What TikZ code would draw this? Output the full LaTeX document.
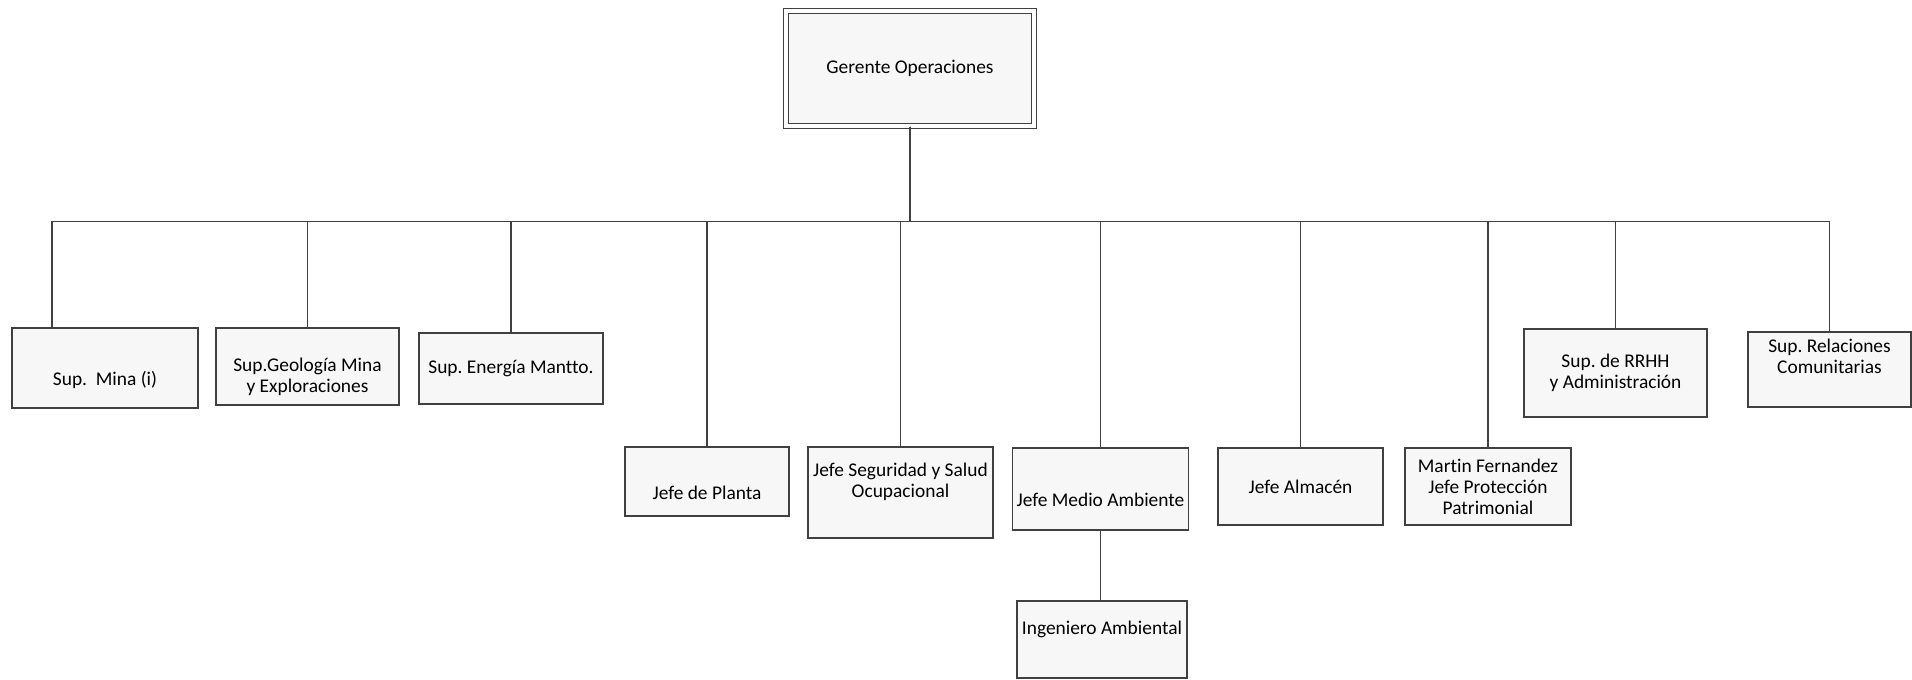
\documentclass[tikz,border=0pt]{standalone}
\usepackage{fontspec}
\setmainfont{Carlito}[Ligatures=NoCommon]
\frenchspacing

\begin{document}
\begin{tikzpicture}[x=0.5pt,y=-0.5pt,
puesto/.style={draw=black!75, fill=black!3, line width=0.75pt, align=center, inner sep=2pt, font=\fontsize{9.7}{10.5}\selectfont},
enlace/.style={draw=black!75, line width=0.75pt}]
\useasboundingbox (0,0) rectangle (1912,680);
\node[puesto, double, double distance=1.6pt, line width=0.6pt, minimum width=124pt, minimum height=57.5pt] (gerente) at (910,68.5) {Gerente Operaciones};
\node[puesto, minimum width=93pt, minimum height=40pt, text height=19pt] (mina) at (105,368) {Sup.\ \ Mina (i)};
\node[puesto, minimum width=91.5pt, minimum height=38.5pt, text height=28pt] (geo) at (307.5,366.5) {Sup.Geología Mina\\y Exploraciones};
\node[puesto, minimum width=92pt, minimum height=35.5pt] (energia) at (511,368.5) {Sup. Energía Mantto.};
\node[puesto, minimum width=82pt, minimum height=34.5pt, text height=18.5pt] (planta) at (707,481.5) {Jefe de Planta};
\node[puesto, minimum width=92.5pt, minimum height=45.5pt, text depth=12pt] (seguridad) at (900.5,492.5) {Jefe Seguridad y Salud\\Ocupacional};
\node[puesto, minimum width=87.5pt, minimum height=41pt, text height=18pt] (medio) at (1100.5,489) {Jefe Medio Ambiente};
\node[puesto, minimum width=85pt, minimum height=38.5pt, text depth=11.5pt] (ingeniero) at (1102,639.5) {Ingeniero Ambiental};
\node[puesto, minimum width=82.5pt, minimum height=38.5pt] (almacen) at (1300.5,486.5) {Jefe Almacén};
\node[puesto, minimum width=83pt, minimum height=38.5pt] (martin) at (1488,486.5) {Martin Fernandez\\Jefe Protección\\Patrimonial};
\node[puesto, minimum width=91.5pt, minimum height=44pt] (rrhh) at (1615.5,373) {Sup. de RRHH\\y Administración};
\node[puesto, minimum width=81.5pt, minimum height=37.5pt, text depth=13pt] (relaciones) at (1829.5,369.5) {Sup. Relaciones\\Comunitarias};
\draw[enlace] (gerente.south) -- ++(0,95) -| ([xshift=-26.5pt]mina.north);
\draw[enlace] (gerente.south) -- ++(0,95) -| (geo.north);
\draw[enlace] (gerente.south) -- ++(0,95) -| (energia.north);
\draw[enlace] (gerente.south) -- ++(0,95) -| (planta.north);
\draw[enlace] (gerente.south) -- ++(0,95) -| (seguridad.north);
\draw[enlace] (gerente.south) -- ++(0,95) -| (medio.north);
\draw[enlace] (gerente.south) -- ++(0,95) -| (almacen.north);
\draw[enlace] (gerente.south) -- ++(0,95) -| (martin.north);
\draw[enlace] (gerente.south) -- ++(0,95) -| (rrhh.north);
\draw[enlace] (gerente.south) -- ++(0,95) -| (relaciones.north);
\draw[enlace] (medio.south) -- (medio.south |- ingeniero.north);
\end{tikzpicture}
\end{document}
